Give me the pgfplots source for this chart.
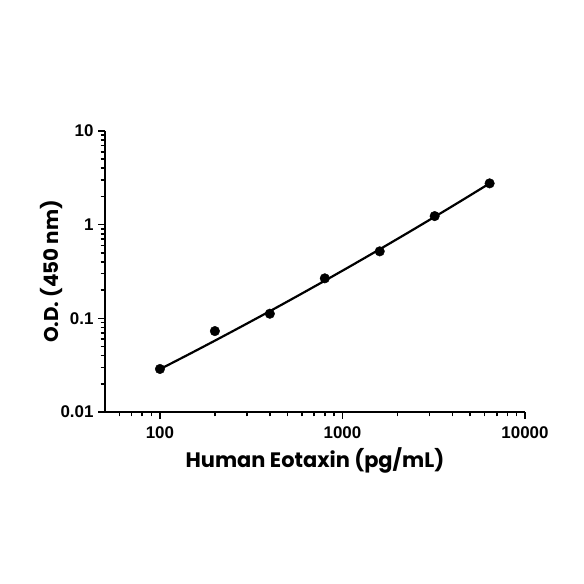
\documentclass[border=0pt]{standalone}
\usepackage{pgfplots}
\pgfplotsset{compat=1.18}
\usepackage{fontspec}
\setmainfont{Liberation Sans}
\newfontfamily\titlefont{Poppins}
\begin{document}
\begin{tikzpicture}
\path[use as bounding box] (0,0) rectangle (584bp,584bp);
\begin{axis}[
  at={(105bp,172bp)}, anchor=south west,
  scale only axis, width=420bp, height=281bp,
  xmode=log, ymode=log,
  xmin=50, xmax=10000, ymin=0.01, ymax=10,
  axis lines*=left,
  axis line style={line width=2bp},
  tick align=outside,
  tick style={line width=1.6bp, black},
  major tick length=7bp, minor tick length=4.5bp,
  xtick={100,1000,10000}, xticklabels={100,1000,10000},
  ytick={0.01,0.1,1,10}, yticklabels={0.01,0.1,1,10},
  minor xtick={60,70,80,90,200,300,400,500,600,700,800,900,2000,3000,4000,5000,6000,7000,8000,9000},
  minor ytick={0.02,0.03,0.04,0.05,0.06,0.07,0.08,0.09,0.2,0.3,0.4,0.5,0.6,0.7,0.8,0.9,2,3,4,5,6,7,8,9},
  ticklabel style={font=\fontsize{17}{19}\selectfont\bfseries},
  xticklabel style={yshift=-4bp},
  yticklabel style={xshift=-1bp},
  xlabel={\titlefont\bfseries Human Eotaxin (pg/mL)},
  ylabel={\titlefont\bfseries O.D. (450 nm)},
  xlabel style={font=\fontsize{21}{24}\selectfont, yshift=-2bp},
  ylabel style={font=\fontsize{20}{23}\selectfont, yshift=-9bp},
  clip=false,
]
\addplot[black, line width=2.2bp, smooth] coordinates {
(100,0.02866) (141.4,0.04055) (200,0.05776) (282.8,0.08277) (400,0.1192)
(565.7,0.1729) (800,0.2522) (1131.4,0.3702) (1600,0.5465) (2262.7,0.8118)
(3200,1.2134) (4525.5,1.8239) (6400,2.760)
};
\addplot[only marks, mark=*, mark size=4.8bp, black] coordinates {
(100,0.0288) (200,0.0731) (400,0.112) (800,0.2673) (1600,0.519) (3200,1.235) (6400,2.76)
};
\end{axis}
\end{tikzpicture}
\end{document}
